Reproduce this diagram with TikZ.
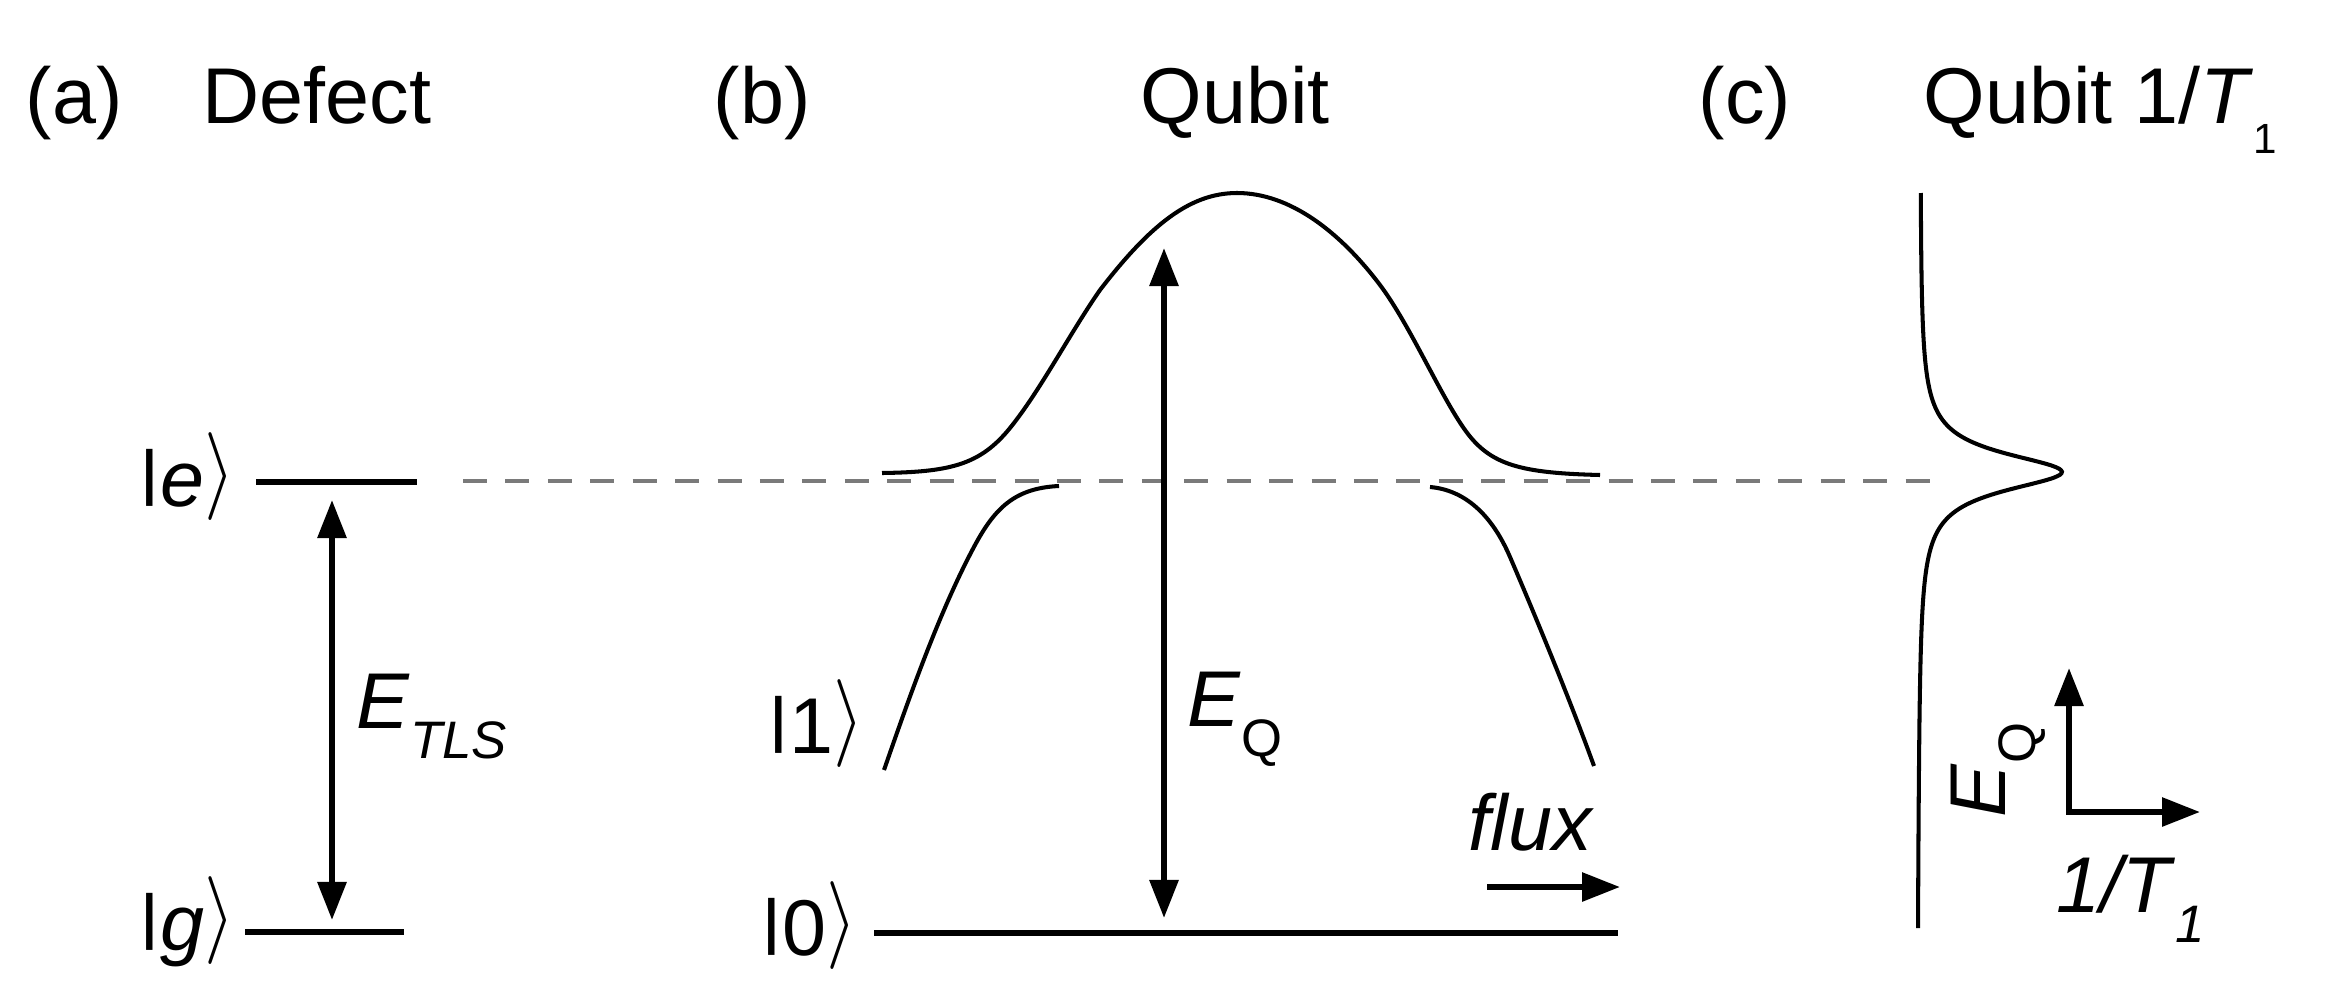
\RequirePackage{fix-cm}
\documentclass[tikz,border=0pt]{standalone}
\usepackage{fontspec}
\setmainfont{Liberation Sans}
\usepackage{graphicx}
\usetikzlibrary{arrows.meta}

\newcommand{\qket}[1]{\raisebox{0.16em}{\scalebox{1}[0.77]{\textbar}}#1\raisebox{0.1em}{\scalebox{1}[1.11]{$\rangle$}}}
\newcommand{\lowsub}[2][15]{\raisebox{-0.3cm}{\fontsize{#1}{#1}\selectfont #2}}

\begin{document}
\begin{tikzpicture}[x=0.01cm, y=-0.01cm, >={Triangle[length=3.8mm,width=2.8mm]},
  font=\fontsize{22.5}{27}\selectfont,
  lbl/.style={inner sep=0pt, anchor=base west},
  ket/.style={inner sep=0pt, anchor=base east},
  lvl/.style={line width=1.85pt},
  arr/.style={line width=1.7pt},
  curve/.style={line width=1.15pt},
  guide/.style={line width=1.4pt, color=black!52, dash pattern=on 0.24cm off 0.184cm}]
  \useasboundingbox (0,0) rectangle (2334,1006);

  \node[lbl] (tagA) at (25,123) {(a)};
  \node[lbl] (defect) at (202,123) {Defect};
  \node[lbl] (tagB) at (713,123) {(b)};
  \node[lbl] (qubit) at (1140,123) {Qubit};
  \node[lbl] (tagC) at (1698,123) {(c)};
  \node[lbl] (rate) at (1923,123) {Qubit 1/\textit{T}\lowsub[12]{1}};

  \coordinate (eL) at (256,482);   \coordinate (eR) at (417,482);
  \coordinate (gL) at (245,932);   \coordinate (gR) at (404,932);
  \coordinate (zeroL) at (874,933); \coordinate (zeroR) at (1618,933);
  \coordinate (dashL) at (463,481); \coordinate (dashR) at (1936,481);
  \coordinate (tlsTop) at (332,500); \coordinate (tlsBot) at (332,920);
  \coordinate (eqTop) at (1164,248); \coordinate (eqBot) at (1164,918);
  \coordinate (fluxL) at (1487,887); \coordinate (fluxR) at (1620,887);
  \coordinate (axO) at (2069,812);  \coordinate (axUp) at (2069,668);
  \coordinate (axRt) at (2200,812);

  \node[ket] (ketE) at (236,506) {\qket{\textit{e}}};
  \node[ket] (ketG) at (236,950) {\qket{\textit{g}}};
  \node[ket] (ketOne) at (865,753) {\qket{1}};
  \node[ket] (ketZero) at (858,955) {\qket{0}};
  \node[lbl] (etls) at (356,728) {\textit{E}\lowsub{\textit{TLS}}};
  \node[lbl] (eq) at (1187,726) {\textit{E}\lowsub{Q}};
  \node[lbl] (flux) at (1468,850) {\textit{flux}};
  \node[lbl, rotate=90] (eqAxis) at (2005,818) {\textit{E}\lowsub{Q}};
  \node[lbl] (invT) at (2056,912) {\textit{1/T}\lowsub{\textit{1}}};

  \draw[guide] (dashL) -- (dashR);
  \draw[lvl] (eL) -- (eR);
  \draw[lvl] (gL) -- (gR);
  \draw[lvl] (zeroL) -- (zeroR);
  \draw[arr,<->] (tlsTop) -- (tlsBot);
  \draw[arr,<->] (eqTop) -- (eqBot);
  \draw[arr,->] (fluxL) -- (fluxR);
  \draw[arr,<->] (axUp) -- (axO) -- (axRt);

  \draw[curve] (882,473) .. controls (950,472) and (980,465) .. (1010,428)
    .. controls (1040,391) and (1070,333) .. (1100,290)
    .. controls (1150,225) and (1190,193) .. (1237,193)
    .. controls (1290,193) and (1340,232) .. (1380,285)
    .. controls (1410,325) and (1440,395) .. (1465,430)
    .. controls (1490,465) and (1520,473) .. (1600,475);
  \draw[curve] (884,770) .. controls (910,695) and (940,610) .. (975,545)
    .. controls (995,508) and (1015,488) .. (1059,486);
  \draw[curve] (1430,487) .. controls (1465,490) and (1492,515) .. (1510,557)
    .. controls (1535,615) and (1570,700) .. (1594,766);
  \draw[curve] plot[domain=193:928, samples=241, variable=\t, smooth]
    ({1919-0.003*(\t-472)+143/(1+((\t-472)/23)*((\t-472)/23))}, \t);
\end{tikzpicture}
\end{document}
